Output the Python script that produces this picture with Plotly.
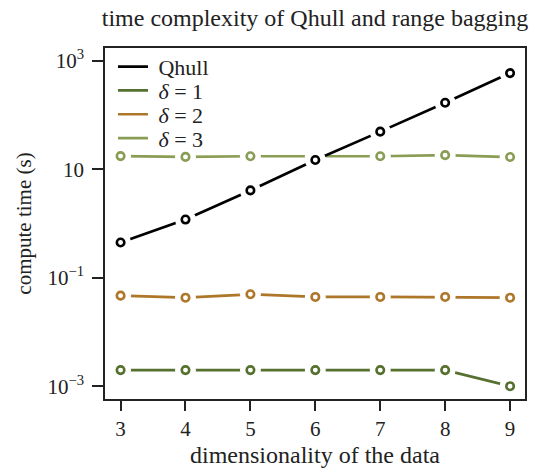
import plotly.graph_objects as go

dims = [3, 4, 5, 6, 7, 8, 9]
qhull = [0.45, 1.19, 4.1, 14.9, 49.7, 169, 596]
delta1 = [0.0020, 0.0020, 0.0020, 0.0020, 0.0020, 0.0020, 0.00101]
delta2 = [0.0471, 0.0432, 0.0499, 0.0446, 0.0446, 0.0446, 0.0432]
delta3 = [17.6, 17.0, 17.5, 17.5, 17.5, 18.3, 16.9]

series = [
    ("Qhull", qhull, "#000000", "legend"),
    ("<i>δ</i> = 1", delta1, "#55702F", "legend2"),
    ("<i>δ</i> = 2", delta2, "#AE7628", "legend3"),
    ("<i>δ</i> = 3", delta3, "#8A9D55", "legend4"),
]

ytickvals = [1e-3, 1e-1, 10, 1e3]
yticktext = ["10<sup>−3</sup>", "10<sup>−1</sup>", "10", "10<sup>3</sup>"]

FONT = "Times New Roman, Liberation Serif, DejaVu Serif, serif"
TXT = "#222222"
fig = go.Figure()

order = [series[1], series[2], series[3], series[0]]
for name, vals, col, leg in order:
    fig.add_trace(go.Scatter(x=dims, y=vals, mode="lines", name="\u00a0" + name,
                             line=dict(color=col, width=2.7),
                             legend=leg, showlegend=True))
    fig.add_trace(go.Scatter(x=dims, y=vals, mode="markers", showlegend=False,
                             hoverinfo="skip",
                             marker=dict(size=21, color="white", line=dict(width=0))))
    fig.add_trace(go.Scatter(x=dims, y=vals, mode="markers", showlegend=False,
                             marker=dict(size=7.5, color="white", symbol="circle",
                                         line=dict(color=col, width=2.6))))

PLOT_TOP, PLOT_H = 48, 354
legend_centers = {"legend": 67, "legend2": 91, "legend3": 115, "legend4": 139}
legends = {}
for key, cy in legend_centers.items():
    legends[key] = dict(x=0.019, y=1 - (cy - PLOT_TOP) / PLOT_H,
                        xanchor="left", yanchor="middle",
                        bgcolor="rgba(0,0,0,0)", borderwidth=0,
                        font=dict(family=FONT, size=22, color=TXT),
                        tracegroupgap=0, itemwidth=30)

fig.update_layout(
    width=538, height=475,
    margin=dict(l=105, r=11, t=48, b=73),
    paper_bgcolor="white", plot_bgcolor="white",
    font=dict(family=FONT, size=20, color=TXT),
    title=dict(text="time complexity of Qhull and range bagging",
               x=0.5, xref="paper", xanchor="center",
               y=1 - 18 / 475, yref="container", yanchor="middle",
               font=dict(family=FONT, size=24, color=TXT)),
    showlegend=True,
    **legends,
    xaxis=dict(range=[2.76, 9.23], tickvals=dims, ticktext=[str(d) for d in dims],
               showgrid=False, zeroline=False, showline=True, mirror=True,
               linecolor=TXT, linewidth=1.5, ticks="outside", ticklen=10,
               tickwidth=1.5, tickcolor=TXT,
               title=dict(text="dimensionality of the data", standoff=6,
                          font=dict(family=FONT, size=24, color=TXT)),
               tickfont=dict(family=FONT, size=21, color=TXT)),
    yaxis=dict(type="log", range=[-3.232, 3.238], tickvals=ytickvals, ticktext=yticktext,
               showgrid=False, zeroline=False, showline=True, mirror=True,
               linecolor=TXT, linewidth=1.5, ticks="outside", ticklen=11,
               tickwidth=1.5, tickcolor=TXT, ticklabelstandoff=4,
               title=dict(text="compute time (s)", standoff=10,
                          font=dict(family=FONT, size=21, color=TXT)),
               tickfont=dict(family=FONT, size=21, color=TXT)),
)

fig.write_html("out.html")
